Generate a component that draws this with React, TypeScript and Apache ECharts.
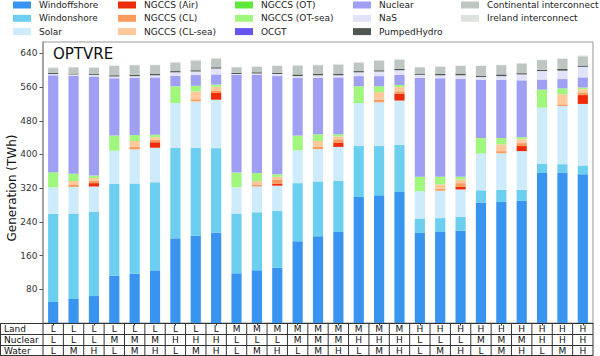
import React, { useEffect, useRef } from "react";
import * as echarts from "echarts";

const landLevels = ["L","L","L","L","L","L","L","L","L","M","M","M","M","M","M","M","M","M","H","H","H","H","H","H","H","H","H"];
const nuclearLevels = ["L","L","L","M","M","M","H","H","H","L","L","L","M","M","M","H","H","H","L","L","L","M","M","M","H","H","H"];
const waterLevels = ["L","M","H","L","M","H","L","M","H","L","M","H","L","M","H","L","M","H","L","M","H","L","M","H","L","M","H"];
const categories = landLevels.map((l, i) => l + nuclearLevels[i] + waterLevels[i]);

const windoffshore = [50, 57, 64, 112, 117, 125, 201, 207, 215, 118, 125, 131, 194, 206, 216, 299, 303, 311, 214, 216, 219, 286, 287, 290, 356, 357, 353];
const windonshore = [209, 203, 200, 218, 214, 209, 215, 209, 200, 142, 138, 135, 138, 130, 121, 121, 117, 112, 34, 33, 33, 29, 29, 26, 22, 20, 21];
const solar = [63, 63, 60, 79, 81, 82, 106, 110, 115, 62, 61, 60, 78, 77, 81, 102, 104, 105, 65, 65, 65, 87, 87, 92, 133, 138, 146];
const ngccsAir = [0, 0, 8, 0, 0, 13, 0, 0, 16, 0, 0, 5, 0, 0, 10, 0, 0, 16, 0, 0, 6, 0, 0, 12, 0, 0, 21];
const ngccsCL = [0, 6, 6, 0, 6, 6, 0, 5, 6, 0, 5, 10, 0, 5, 8, 0, 6, 6, 0, 5, 9, 0, 5, 7, 0, 4, 5];
const ngccsCLsea = [0, 8, 6, 0, 14, 6, 0, 19, 9, 0, 8, 6, 0, 14, 7, 0, 18, 10, 0, 10, 8, 0, 16, 9, 0, 24, 9];
const ngccsOT = [0, 0, 0, 0, 0, 0, 0, 0, 0, 0, 0, 0, 0, 0, 0, 0, 0, 0, 0, 0, 0, 0, 0, 0, 0, 0, 0];
const ngccsOTsea = [36, 17, 6, 36, 14, 6, 40, 13, 5, 35, 19, 6, 35, 16, 5, 40, 14, 5, 34, 18, 7, 37, 15, 5, 43, 14, 4];
const ocgt = [0, 0, 0, 0, 0, 0, 0, 0, 0, 0, 0, 0, 0, 0, 0, 0, 0, 0, 0, 0, 0, 0, 0, 0, 0, 0, 0];
const nuclear = [230, 233, 235, 136, 136, 136, 25, 26, 24, 232, 233, 233, 137, 134, 135, 24, 24, 24, 235, 234, 232, 138, 138, 135, 24, 22, 24];
const nas = [3, 3, 4, 4, 4, 5, 8, 8, 14, 2, 3, 5, 4, 6, 5, 9, 11, 11, 7, 7, 9, 7, 9, 14, 20, 20, 25];
const pumpedHydro = [3, 2, 2, 3, 3, 3, 3, 3, 3, 3, 3, 3, 4, 3, 3, 3, 3, 3, 3, 3, 4, 3, 4, 3, 3, 4, 3];
const continental = [11, 15, 15, 22, 23, 21, 20, 23, 20, 13, 13, 16, 21, 21, 22, 20, 23, 22, 15, 17, 18, 23, 22, 23, 23, 24, 22];
const ireland = [2, 1, 1, 1, 1, 1, 2, 2, 2, 1, 1, 1, 1, 1, 2, 2, 1, 2, 1, 1, 1, 1, 1, 1, 1, 1, 2];

const yTicks = [80, 160, 240, 320, 400, 480, 560, 640];
const tableRows = ["Land", "Nuclear", "Water"];
const yAxisTitle = "Generation (TWh)";

const seriesDefs = [
  { name: "Windoffshore", data: windoffshore, color: "#3894ee" },
  { name: "Windonshore", data: windonshore, color: "#6dcff0" },
  { name: "Solar", data: solar, color: "#cdebfb" },
  { name: "NGCCS (Air)", data: ngccsAir, color: "#ee2b0b" },
  { name: "NGCCS (CL)", data: ngccsCL, color: "#fb9b5c" },
  { name: "NGCCS (CL-sea)", data: ngccsCLsea, color: "#ffc99c" },
  { name: "NGCCS (OT)", data: ngccsOT, color: "#5fe83c" },
  { name: "NGCCS (OT-sea)", data: ngccsOTsea, color: "#a1f67e" },
  { name: "OCGT", data: ocgt, color: "#6455ee" },
  { name: "Nuclear", data: nuclear, color: "#9f9ff4" },
  { name: "NaS", data: nas, color: "#e2e2fb" },
  { name: "PumpedHydro", data: pumpedHydro, color: "#4f5753" },
  { name: "Continental interconnect", data: continental, color: "#bec6c2" },
  { name: "Ireland interconnect", data: ireland, color: "#dde2df" },
];

const FONT = "DejaVu Sans";

export default function App() {
  const ref = useRef<HTMLDivElement>(null);
  useEffect(() => {
    if (!ref.current) return;
    const chart = echarts.init(ref.current, null, { renderer: "svg" });
    const gridLeft = 43;
    const gridRight = 593;
    const gridTop = 42;
    const gridBottom = 323;
    const slot = (gridRight - gridLeft) / categories.length;
    const rowH = 10.8;

    const graphics: any[] = [];
    graphics.push({
      type: "text",
      x: 12,
      y: 188,
      rotation: Math.PI / 2,
      style: { text: yAxisTitle, fill: "#111", font: `12px '${FONT}'`, textAlign: "center", textVerticalAlign: "middle" },
    });
    for (let r = 0; r <= 3; r++) {
      const y = Math.round(gridBottom + r * rowH) + 0.5;
      graphics.push({
        type: "line",
        shape: { x1: 0.5, y1: y, x2: gridRight, y2: y },
        style: { stroke: "#333", lineWidth: 1 },
      });
    }
    const vxs = [0.5];
    for (let k = 0; k <= categories.length; k++) vxs.push(gridLeft + k * slot);
    vxs.forEach((x) => {
      graphics.push({
        type: "line",
        shape: { x1: x, y1: gridBottom, x2: x, y2: 360 },
        style: { stroke: "#333", lineWidth: 1 },
      });
    });
    const rowsData = [landLevels, nuclearLevels, waterLevels];
    tableRows.forEach((name, r) => {
      const cy = gridBottom + (r + 0.5) * rowH + 0.8;
      graphics.push({
        type: "text",
        x: 4,
        y: cy,
        style: { text: name, fill: "#111", font: `9px '${FONT}'`, textAlign: "left", textVerticalAlign: "middle" },
      });
      rowsData[r].forEach((v, i) => {
        graphics.push({
          type: "text",
          x: gridLeft + (i + 0.5) * slot,
          y: cy,
          style: { text: v, fill: "#111", font: `9px '${FONT}'`, textAlign: "center", textVerticalAlign: "middle" },
        });
      });
    });

    const legendCols = [
      { left: 13, names: ["Windoffshore", "Windonshore", "Solar"] },
      { left: 118, names: ["NGCCS (Air)", "NGCCS (CL)", "NGCCS (CL-sea)"] },
      { left: 235, names: ["NGCCS (OT)", "NGCCS (OT-sea)", "OCGT"] },
      { left: 353, names: ["Nuclear", "NaS", "PumpedHydro"] },
      { left: 461, names: ["Continental interconnect", "Ireland interconnect"] },
    ];

    chart.setOption({
      animation: false,
      backgroundColor: "#fff",
      title: {
        text: "OPTVRE",
        left: 53,
        top: 46,
        padding: 0,
        textStyle: { fontSize: 15, fontWeight: "normal", color: "#111", fontFamily: FONT },
      },
      legend: legendCols.map((c) => ({
        left: c.left,
        top: 0,
        orient: "vertical",
        padding: 0,
        itemWidth: 18,
        itemHeight: 7,
        itemGap: 3.3,
        icon: "rect",
        selectedMode: false,
        textStyle: { fontSize: 9, lineHeight: 10, color: "#222", fontFamily: FONT, padding: [0, 0, 0, 3] },
        data: c.names,
      })),
      grid: {
        left: gridLeft,
        top: gridTop,
        width: gridRight - gridLeft,
        height: gridBottom - gridTop,
        show: true,
        borderColor: "#999",
        borderWidth: 1,
        containLabel: false,
        outerBoundsMode: "none",
      },
      xAxis: {
        type: "category",
        data: categories,
        axisLine: { show: true, lineStyle: { color: "#333", width: 1 } },
        axisTick: { show: true, alignWithLabel: true, length: 2.5, lineStyle: { color: "#333" } },
        axisLabel: { show: false },
        splitLine: { show: false },
      },
      yAxis: {
        type: "value",
        min: 0,
        max: 667,
        axisLine: { show: true, lineStyle: { color: "#999", width: 1.5 } },
        axisTick: { show: true, length: 3.5, customValues: yTicks, lineStyle: { color: "#555" } },
        axisLabel: { customValues: yTicks, fontSize: 9, color: "#333", fontFamily: FONT, margin: 5.5 },
        splitLine: { show: false },
      },
      series: seriesDefs.map((s) => ({
        name: s.name,
        type: "bar",
        stack: "total",
        barWidth: "50%",
        data: s.data,
        itemStyle: { color: s.color },
        emphasis: { disabled: true },
      })),
      graphic: graphics,
    });
    return () => chart.dispose();
  }, []);
  return (
    <div
      ref={ref}
      style={{ position: "fixed", left: 0, top: 0, width: 600, height: 356, background: "#fff" }}
    />
  );
}
